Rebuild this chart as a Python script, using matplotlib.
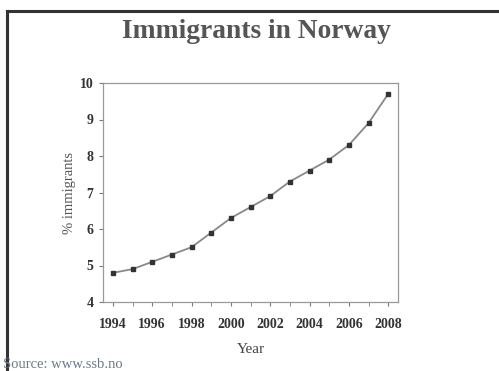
import matplotlib.pyplot as plt
from matplotlib.lines import Line2D

# data
years = [1994, 1995, 1996, 1997, 1998, 1999, 2000, 2001,
         2002, 2003, 2004, 2005, 2006, 2007, 2008]
pct_immigrants = [4.8, 4.9, 5.1, 5.3, 5.5, 5.9, 6.3, 6.6,
                  6.9, 7.3, 7.6, 7.9, 8.3, 8.9, 9.7]
year_labels = [1994, 1996, 1998, 2000, 2002, 2004, 2006, 2008]
y_ticks = [4, 5, 6, 7, 8, 9, 10]

plt.rcParams['font.family'] = ['Liberation Serif', 'DejaVu Serif']

fig = plt.figure(figsize=(4.99, 3.71), dpi=100)
fig.patch.set_facecolor('white')

# slide border (top and left)
fig.add_artist(Line2D([7 / 499, 1.0], [1 - 11 / 371, 1 - 11 / 371],
                      color='#333333', lw=2.2, transform=fig.transFigure))
fig.add_artist(Line2D([7 / 499, 7 / 499], [0.0, 1 - 11 / 371],
                      color='#333333', lw=2.2, transform=fig.transFigure))

fig.text(0.513, 1 - 32 / 371, 'Immigrants in Norway', ha='center', va='center',
         fontsize=19.8, fontweight='bold', color='#555555')

ax = fig.add_axes([103 / 499, 1 - 302 / 371, 295 / 499, 219 / 371])
ax.plot(years, pct_immigrants, color='#888888', lw=1.3,
        marker='s', markersize=3.2, markerfacecolor='#333333',
        markeredgecolor='#333333')

ax.set_xlim(1993.5, 2008.5)
ax.set_ylim(4, 10)
ax.set_xticks(year_labels)
ax.set_xticks(years, minor=True)
ax.set_yticks(y_ticks)
ax.tick_params(axis='both', which='both', direction='out', color='#777777',
               labelsize=10, labelcolor='#333333')
ax.tick_params(axis='x', which='both', length=3, pad=8.5)
ax.tick_params(axis='y', length=3, pad=4)
for lab in ax.get_xticklabels() + ax.get_yticklabels():
    lab.set_fontweight('bold')
for sp in ax.spines.values():
    sp.set_color('#999999')
    sp.set_linewidth(0.9)

ax.set_xlabel('Year', fontsize=11, color='#444444', labelpad=8.5)
ax.set_ylabel('% immigrants', fontsize=10.5, color='#555555', labelpad=2.5)

fig.text(3 / 499, 1 - 365 / 371, 'Source: www.ssb.no', ha='left', va='center',
         fontsize=10.5, color='#6a7a8a')

fig.savefig('out.png', dpi=100)
